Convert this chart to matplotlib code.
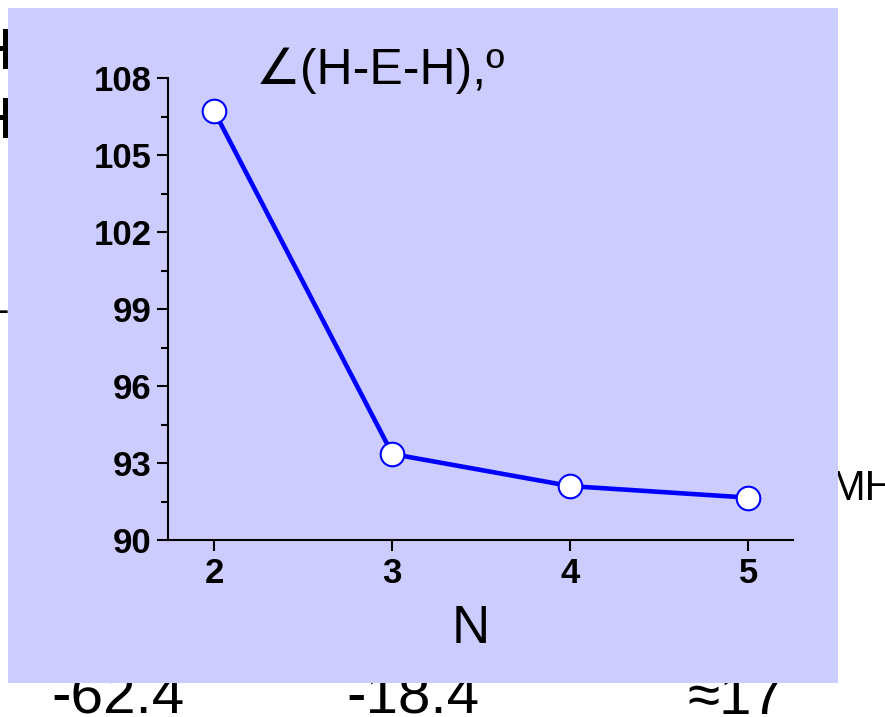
import matplotlib
matplotlib.use('Agg')
import matplotlib.pyplot as plt
from matplotlib.patches import Rectangle

# data
n_values = [2, 3, 4, 5]
angle_values = [106.7, 93.35, 92.1, 91.65]
y_ticks = [90, 93, 96, 99, 102, 105, 108]
x_ticks = [2, 3, 4, 5]

W, H = 885, 717
plt.rcParams['font.family'] = ['Liberation Sans', 'DejaVu Sans']

fig = plt.figure(figsize=(W / 100, H / 100), dpi=100)
fig.patch.set_facecolor('white')

# slide fragments peeking out behind the panel
frag = dict(fontsize=42, color='black', zorder=-3)
fig.text(12 / W, 1 - 69 / H, 'H', ha='right', va='baseline', **frag)
fig.text(12 / W, 1 - 138 / H, 'H', ha='right', va='baseline', **frag)
fig.text(9 / W, 1 - 322 / H, '-', ha='right', va='baseline', fontsize=29,
         zorder=-3)
fig.text(831 / W, 1 - 500 / H, 'MH', ha='left', va='baseline', fontsize=30,
         zorder=-3)
bottom = dict(fontsize=42, color='black', zorder=-3, ha='center', va='baseline')
fig.text(118 / W, 1 - 714 / H, '-62.4', **bottom)
fig.text(413 / W, 1 - 714 / H, '-18.4', **bottom)
fig.text(736 / W, 1 - 714 / H, '≈17', **bottom)

# lavender panel
fig.patches.append(Rectangle((8 / W, 1 - 683 / H), (838 - 8) / W, (683 - 8) / H,
                             transform=fig.transFigure, facecolor='#ccccff',
                             edgecolor='none', zorder=-2))

ax = fig.add_axes([168 / W, 1 - 540 / H, (793 - 168) / W, (540 - 78) / H])
ax.set_facecolor('none')
ax.plot(n_values, angle_values, color='#0000ff', lw=3.3, marker='o', ms=17,
        mfc='white', mec='#0000ff', mew=1.5, zorder=3)

ax.set_xlim(1.74, 5.25)
ax.set_ylim(90, 108)
ax.set_xticks(x_ticks)
ax.set_yticks(y_ticks)
ax.set_yticks([y + 1.5 for y in y_ticks[:-1]], minor=True)
for s in ['top', 'right']:
    ax.spines[s].set_visible(False)
for s in ['left', 'bottom']:
    ax.spines[s].set_linewidth(1.5)
ax.tick_params(axis='both', which='major', direction='out', length=8, width=1.5,
               labelsize=25, pad=4)
ax.tick_params(axis='y', which='minor', direction='out', length=5, width=1.5)
for lab in ax.get_xticklabels() + ax.get_yticklabels():
    lab.set_fontweight('bold')

fig.text(471 / W, 1 - 643 / H, 'N', fontsize=38, ha='center', va='baseline')
fig.text(256 / W, 1 - 84 / H, '∠(H-E-H),º', fontsize=36, ha='left', va='baseline')

fig.savefig('out.png', dpi=100)
